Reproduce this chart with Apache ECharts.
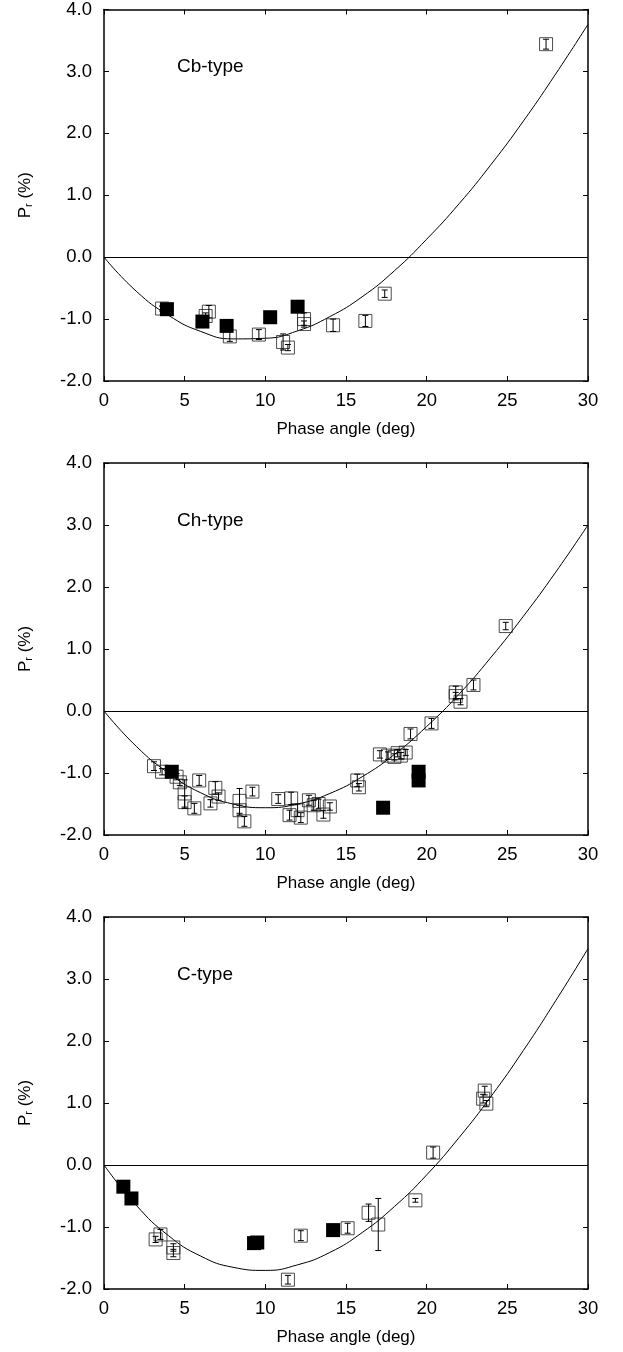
<!DOCTYPE html>
<html>
<head>
<meta charset="utf-8">
<script src="https://cdn.jsdelivr.net/npm/echarts@6/dist/echarts.min.js"></script>
<style>
  html, body { margin: 0; padding: 0; background: #fff; }
  #main { width: 623px; height: 1352px; }
</style>
</head>
<body>
<div id="main"></div>
<script>
// panel labels
var panelNames = ['Cb-type', 'Ch-type', 'C-type'];
var xTicks = [0, 5, 10, 15, 20, 25, 30];
var yTicks = [-2.0, -1.0, 0.0, 1.0, 2.0, 3.0, 4.0];

// [phase angle, Pr, error] for open squares
var cbOpen = [[3.6,-0.83,0.04],[6.3,-0.95,0.05],[6.5,-0.88,0.1],[7.8,-1.28,0.08],[9.6,-1.25,0.08],
  [11.1,-1.37,0.13],[11.4,-1.46,0.05],[12.4,-1.0,0.1],[12.4,-1.08,0.05],[14.2,-1.1,0.1],
  [16.2,-1.03,0.09],[17.4,-0.59,0.06],[27.4,3.44,0.08]];
var cbFilled = [[3.9,-0.84],[6.1,-1.04],[7.6,-1.11],[10.3,-0.97],[12.0,-0.8]];
var cbCurve = [[0,0],[2,-0.55],[4,-0.94],[6,-1.2],[8,-1.32],[10,-1.31],[12,-1.19],[14,-0.96],
  [16,-0.64],[18,-0.22],[20,0.29],[22,0.86],[24,1.5],[26,2.2],[28,2.96],[30,3.76]];

var chOpen = [[3.1,-0.89,0.07],[3.6,-0.98,0.05],[4.5,-1.06,0.05],[4.7,-1.15,0.05],[5.0,-1.33,0.22],
  [5.0,-1.47,0.1],[5.6,-1.57,0.08],[5.9,-1.12,0.08],[6.6,-1.49,0.06],[6.9,-1.24,0.1],
  [7.1,-1.38,0.06],[8.4,-1.45,0.2],[8.4,-1.6,0.08],[8.7,-1.78,0.08],[9.2,-1.3,0.07],
  [10.8,-1.42,0.07],[11.6,-1.41,0.1],[11.5,-1.68,0.08],[12.0,-1.6,0.1],[12.2,-1.72,0.08],
  [12.7,-1.44,0.08],[13.0,-1.52,0.08],[13.3,-1.5,0.08],[13.6,-1.67,0.06],[14.0,-1.54,0.06],
  [15.7,-1.12,0.1],[15.8,-1.23,0.06],[17.1,-0.7,0.06],[17.6,-0.72,0.06],[18.0,-0.74,0.05],
  [18.2,-0.68,0.06],[18.4,-0.72,0.05],[18.7,-0.67,0.05],[19.0,-0.37,0.08],[20.3,-0.2,0.08],
  [21.8,0.3,0.1],[21.8,0.24,0.06],[22.1,0.15,0.05],[22.9,0.42,0.08],[24.9,1.37,0.06]];
var chFilled = [[4.2,-0.98],[17.3,-1.56],[19.5,-0.98],[19.5,-1.12]];
var chCurve = [[0,0],[2,-0.57],[4,-1.0],[6,-1.32],[8,-1.5],[10,-1.56],[12,-1.5],[14,-1.33],
  [16,-1.06],[18,-0.7],[20,-0.25],[22,0.27],[24,0.87],[26,1.53],[28,2.24],[30,3.0]];

var cOpen = [[3.2,-1.2,0.05],[3.5,-1.12,0.08],[4.3,-1.33,0.06],[4.3,-1.42,0.06],[11.4,-1.85,0.07],
  [12.2,-1.14,0.08],[15.1,-1.02,0.08],[16.4,-0.77,0.14],[17.0,-0.96,0.42],[19.3,-0.57,0.03],
  [20.4,0.2,0.09],[23.6,1.2,0.07],[23.5,1.07,0.07],[23.7,0.99,0.05]];
var cFilled = [[1.2,-0.35],[1.7,-0.54],[9.3,-1.26],[9.5,-1.25],[14.2,-1.05]];
var cCurve = [[0,0],[2,-0.65],[4,-1.14],[6,-1.47],[8,-1.65],[10,-1.7],[12,-1.61],[14,-1.41],
  [16,-1.09],[18,-0.67],[20,-0.16],[22,0.44],[24,1.11],[26,1.85],[28,2.65],[30,3.49]];

var panels = [
  { open: cbOpen, filled: cbFilled, curve: cbCurve },
  { open: chOpen, filled: chFilled, curve: chCurve },
  { open: cOpen, filled: cFilled, curve: cCurve }
];

var fontFam = "'Liberation Sans', Arial, Helvetica, sans-serif";
var panelTops = [9, 463, 917];
var panelH = 372;

var myChart = echarts.init(document.getElementById('main'), null, { renderer: 'canvas' });

var grids = [], xAxes = [], yAxes = [], series = [], titles = [];

function errorBar(params, api) {
  var x = api.value(0), y = api.value(1), e = api.value(2);
  var top = api.coord([x, y + e]);
  var bot = api.coord([x, y - e]);
  var st = { stroke: '#000', lineWidth: 1 };
  return {
    type: 'group',
    children: [
      { type: 'line', shape: { x1: top[0], y1: top[1], x2: bot[0], y2: bot[1] }, style: st },
      { type: 'line', shape: { x1: top[0] - 3, y1: top[1], x2: top[0] + 3, y2: top[1] }, style: st },
      { type: 'line', shape: { x1: bot[0] - 3, y1: bot[1], x2: bot[0] + 3, y2: bot[1] }, style: st }
    ]
  };
}

panels.forEach(function (p, i) {
  grids.push({ left: 104, top: panelTops[i], width: 484, height: panelH });

  titles.push({
    text: panelNames[i],
    left: 172,
    top: panelTops[i] + 43,
    textStyle: { fontFamily: fontFam, fontSize: 19, fontWeight: 'normal', color: '#000' }
  });

  var lineStyle = { color: '#000', width: 1.5 };
  xAxes.push({
    gridIndex: i, type: 'value', min: 0, max: 30, interval: 5, position: 'bottom',
    name: 'Phase angle (deg)', nameLocation: 'middle', nameGap: 40,
    nameTextStyle: { fontFamily: fontFam, fontSize: 17, color: '#000' },
    axisLine: { show: true, onZero: false, lineStyle: lineStyle },
    axisTick: { show: true, inside: true, length: 5, lineStyle: { color: '#000' } },
    axisLabel: { fontFamily: fontFam, fontSize: 18.5, color: '#000', margin: 10 },
    splitLine: { show: false }
  });
  xAxes.push({
    gridIndex: i, type: 'value', min: 0, max: 30, interval: 5, position: 'top',
    axisLine: { show: true, onZero: false, lineStyle: lineStyle },
    axisTick: { show: true, inside: true, length: 5, lineStyle: { color: '#000' } },
    axisLabel: { show: false },
    splitLine: { show: false }
  });
  yAxes.push({
    gridIndex: i, type: 'value', min: -2, max: 4, interval: 1, position: 'left',
    name: 'P{sub|r} (%)', nameLocation: 'middle', nameGap: 70, nameRotate: 90,
    nameTextStyle: {
      fontFamily: fontFam, fontSize: 17, color: '#000',
      rich: { sub: { fontFamily: fontFam, fontSize: 11, color: '#000', verticalAlign: 'bottom', padding: [6, 0, 0, 0] } }
    },
    axisLine: { show: true, onZero: false, lineStyle: lineStyle },
    axisTick: { show: true, inside: true, length: 5, lineStyle: { color: '#000' } },
    axisLabel: {
      fontFamily: fontFam, fontSize: 18.5, color: '#000', margin: 12,
      formatter: function (v) { return v.toFixed(1); }
    },
    splitLine: { show: false }
  });
  yAxes.push({
    gridIndex: i, type: 'value', min: -2, max: 4, interval: 1, position: 'right',
    axisLine: { show: true, onZero: false, lineStyle: lineStyle },
    axisTick: { show: true, inside: true, length: 5, lineStyle: { color: '#000' } },
    axisLabel: { show: false },
    splitLine: { show: false }
  });

  var xi = i * 2, yi = i * 2;

  // fitted curve + zero line
  series.push({
    type: 'line', xAxisIndex: xi, yAxisIndex: yi,
    data: p.curve, smooth: true, showSymbol: false, silent: true,
    lineStyle: { color: '#000', width: 1 },
    markLine: {
      silent: true, symbol: 'none', label: { show: false },
      lineStyle: { color: '#000', width: 1, type: 'solid' },
      data: [{ yAxis: 0 }]
    },
    z: 2
  });

  // open squares
  series.push({
    type: 'scatter', xAxisIndex: xi, yAxisIndex: yi,
    data: p.open.map(function (d) { return [d[0], d[1]]; }),
    symbol: 'rect', symbolSize: 13,
    itemStyle: { color: 'rgba(255,255,255,0)', borderColor: '#222', borderWidth: 1 },
    z: 3
  });

  // error bars
  series.push({
    type: 'custom', xAxisIndex: xi, yAxisIndex: yi,
    data: p.open, renderItem: errorBar, z: 4
  });

  // filled squares
  series.push({
    type: 'scatter', xAxisIndex: xi, yAxisIndex: yi,
    data: p.filled, symbol: 'rect', symbolSize: 14,
    itemStyle: { color: '#000', opacity: 1 },
    z: 5
  });
});

var option = {
  backgroundColor: '#fff',
  animation: false,
  title: titles,
  grid: grids,
  xAxis: xAxes,
  yAxis: yAxes,
  series: series
};

myChart.setOption(option);

window.addEventListener('resize', function () {
  myChart.resize();
});
</script>
</body>
</html>
